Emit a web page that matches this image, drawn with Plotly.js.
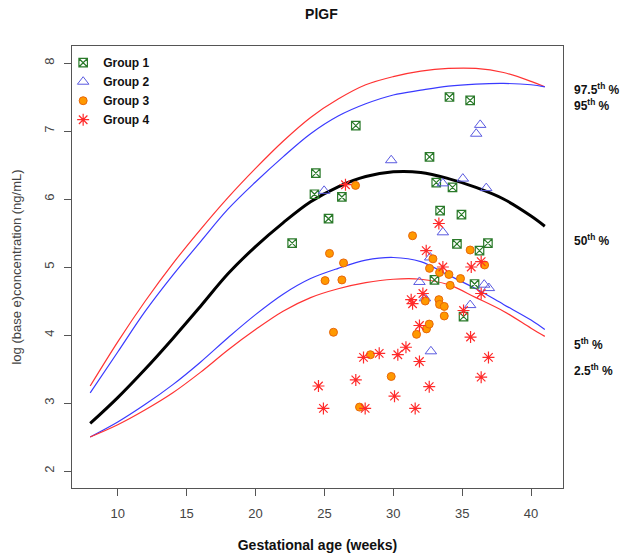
<!DOCTYPE html>
<html>
<head>
<meta charset="utf-8">
<script src="https://cdn.plot.ly/plotly-3.0.1.min.js"></script>
<style>
  html, body { margin: 0; padding: 0; background: #fff; }
  #chart { width: 624px; height: 559px; }
</style>
</head>
<body>
<div id="chart"></div>
<script>
// percentile curves (weeks -> log concentration)
const curveWeeks = [8, 10, 12, 14, 16, 18, 20, 22, 24, 26, 28, 30, 32, 34, 36, 38, 40, 41];
const p975 = [3.25, 3.9, 4.5, 5.05, 5.55, 6.02, 6.45, 6.85, 7.2, 7.47, 7.68, 7.8, 7.88, 7.92, 7.92, 7.86, 7.73, 7.65];
const p95  = [3.15, 3.75, 4.35, 4.88, 5.37, 5.85, 6.25, 6.62, 6.96, 7.22, 7.4, 7.53, 7.6, 7.66, 7.69, 7.7, 7.68, 7.65];
const p50  = [2.7, 3.08, 3.5, 3.95, 4.42, 4.9, 5.3, 5.65, 5.96, 6.18, 6.33, 6.4, 6.39, 6.3, 6.17, 6.0, 5.75, 5.6];
const p5   = [2.5, 2.72, 2.98, 3.27, 3.6, 3.96, 4.3, 4.6, 4.83, 4.98, 5.1, 5.14, 5.08, 4.88, 4.68, 4.45, 4.22, 4.08];
const p25  = [2.5, 2.68, 2.9, 3.15, 3.45, 3.78, 4.08, 4.35, 4.55, 4.68, 4.77, 4.82, 4.82, 4.74, 4.55, 4.35, 4.1, 3.98];

// observations
const g1Weeks = [22.66, 24.28, 24.38, 25.3, 26.27, 27.28, 32.63, 32.99, 33.12, 33.4, 34.08, 34.3, 34.62, 34.95, 35.1, 35.58, 35.9, 36.26, 36.87];
const g1Vals  = [5.35, 6.07, 6.38, 5.71, 6.03, 7.08, 6.62, 4.81, 6.24, 5.83, 7.5, 6.17, 5.34, 5.77, 4.27, 7.45, 4.75, 5.24, 5.35];

const g2Weeks = [24.98, 29.85, 32.3, 32.68, 32.73, 31.9, 33.6, 33.6, 35.05, 35.58, 36.02, 36.31, 36.6, 36.75, 36.94];
const g2Vals  = [6.12, 6.57, 4.54, 5.14, 3.76, 4.78, 5.51, 6.23, 6.3, 4.44, 6.96, 7.09, 4.74, 6.16, 4.69];

const g3Weeks = [25.05, 25.37, 25.66, 26.27, 26.39, 27.26, 27.55, 28.34, 29.85, 31.4, 31.69, 32.32, 32.41, 32.61, 32.63, 32.88, 33.31, 33.36, 33.36, 33.7, 33.7, 34.04, 34.13, 34.88, 35.58, 36.63];
const g3Vals  = [4.8, 5.2, 4.04, 4.81, 5.06, 6.2, 2.94, 3.71, 3.39, 5.46, 4.01, 4.5, 4.09, 4.16, 4.98, 5.12, 4.52, 4.45, 4.92, 4.42, 4.28, 4.89, 4.73, 4.83, 5.25, 5.03];

const g4Weeks = [24.57, 24.93, 26.53, 27.28, 27.84, 27.96, 28.98, 30.09, 30.33, 30.92, 31.3, 31.4, 31.59, 31.9, 31.9, 32.15, 32.39, 32.61, 33.31, 33.6, 35.1, 35.61, 35.66, 36.38, 36.38, 36.38, 36.91];
const g4Vals  = [3.25, 2.92, 6.21, 3.34, 3.67, 2.92, 3.73, 3.1, 3.71, 3.82, 4.52, 4.46, 2.92, 4.14, 3.61, 4.61, 5.24, 3.24, 5.64, 5.0, 4.36, 3.97, 5.0, 5.08, 4.61, 3.38, 3.67];

const pctLabels = ['97.5<sup>th</sup> %', '95<sup>th</sup> %', '50<sup>th</sup> %', '5<sup>th</sup> %', '2.5<sup>th</sup> %'];
const pctLabelY = [7.62, 7.38, 5.39, 3.87, 3.48];

const FONT = 'Liberation Sans, Arial, sans-serif';

function curve(y, color, width) {
  return {
    x: curveWeeks, y: y, mode: 'lines', showlegend: false, hoverinfo: 'skip',
    line: { color: color, width: width, shape: 'spline', smoothing: 1 },
  };
}

const traces = [
  curve(p975, '#ff3333', 1.2),
  curve(p95, '#3a3aff', 1.2),
  curve(p50, '#000000', 3),
  curve(p5, '#3a3aff', 1.2),
  curve(p25, '#ff3333', 1.2),
  {
    x: g1Weeks, y: g1Vals, mode: 'markers', name: 'Group 1',
    marker: { symbol: 'square-x-open', size: 8.5, color: '#2a7a2a', line: { width: 1.2 } },
  },
  {
    x: g2Weeks, y: g2Vals, mode: 'markers', name: 'Group 2',
    marker: { symbol: 'triangle-up-open', size: 10, color: '#5a5ae0', line: { width: 1 } },
  },
  {
    x: g3Weeks, y: g3Vals, mode: 'markers', name: 'Group 3',
    marker: { symbol: 'circle', size: 8, color: '#ff9900', line: { color: '#e8660a', width: 1 } },
  },
  {
    x: g4Weeks, y: g4Vals, mode: 'markers', name: 'Group 4',
    marker: { symbol: 'asterisk-open', size: 10, color: '#ff2a2a', line: { color: '#ff2a2a', width: 1.2 } },
  },
];

const annotations = pctLabels.map((t, i) => ({
  text: t, xref: 'paper', yref: 'y', x: 1, y: pctLabelY[i], xshift: 9,
  xanchor: 'left', yanchor: 'middle', showarrow: false,
  font: { family: FONT, size: 12, color: '#111', weight: 'bold' },
}));

const layout = {
  width: 624,
  height: 559,
  margin: { l: 72, r: 61, t: 46, b: 71 },
  paper_bgcolor: '#fff',
  plot_bgcolor: '#fff',
  font: { family: FONT, color: '#444' },
  title: {
    text: 'PlGF', x: 0.508, xref: 'paper', y: 0.975, yanchor: 'middle',
    font: { family: FONT, size: 14, color: '#111', weight: 'bold' },
  },
  xaxis: {
    range: [6.68, 42.32], tickvals: [10, 15, 20, 25, 30, 35, 40],
    showgrid: false, zeroline: false,
    showline: true, mirror: true, linecolor: '#555', linewidth: 1,
    ticks: 'outside', ticklen: 7, tickcolor: '#555',
    tickfont: { family: FONT, size: 13, color: '#444' }, ticklabelstandoff: 6,
    title: { text: 'Gestational age (weeks)', standoff: 20,
      font: { family: FONT, size: 14, color: '#111', weight: 'bold' } },
  },
  yaxis: {
    range: [1.75, 8.25], tickvals: [2, 3, 4, 5, 6, 7, 8], tickangle: -90,
    showgrid: false, zeroline: false,
    showline: true, mirror: true, linecolor: '#555', linewidth: 1,
    ticks: 'outside', ticklen: 7, tickcolor: '#555',
    tickfont: { family: FONT, size: 13, color: '#444' }, ticklabelstandoff: 5,
    title: { text: 'log (base e)concentration (ng/mL)', standoff: 17,
      font: { family: FONT, size: 13, color: '#444' } },
  },
  legend: {
    x: -0.018, y: 0.995, xanchor: 'left', yanchor: 'top',
    bgcolor: 'rgba(0,0,0,0)', borderwidth: 0, tracegroupgap: 0,
    font: { family: FONT, size: 12, color: '#111', weight: 'bold' },
  },
  annotations: annotations,
};

Plotly.newPlot('chart', traces, layout, { displayModeBar: false });
</script>
</body>
</html>
